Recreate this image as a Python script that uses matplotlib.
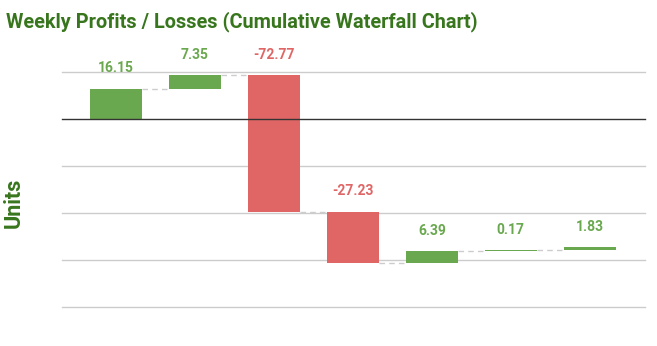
import matplotlib
matplotlib.use("Agg")
import matplotlib.pyplot as plt
import numpy as np

categories = ["W1", "W2", "W3", "W4", "W5", "W6", "W7"]
values = [16.15, 7.35, -72.77, -27.23, 6.39, 0.17, 1.83]
labels = ["16.15", "7.35", "-72.77", "-27.23", "6.39", "0.17", "1.83"]
yticks = [25, 0, -25, -50, -75, -100]

GREEN = "#6aa84f"
RED = "#e06666"
TITLE_C = "#38761d"

W, H = 657, 346
fig = plt.figure(figsize=(W / 100, H / 100), dpi=100)
# axes placed in pixels: left 62, right 645, top 72, bottom 307
ax = fig.add_axes([62 / W, 1 - 307 / H, (645 - 62) / W, (307 - 72) / H])

x = np.arange(len(values))
vals = np.array(values)
ends = np.cumsum(vals)
starts = ends - vals
colors = [GREEN if v >= 0 else RED for v in vals]
bw = 0.66
ax.bar(x, vals, bottom=starts, width=bw, color=colors, zorder=3)

# connectors
for i in range(len(vals) - 1):
    ax.plot([x[i] + bw / 2, x[i + 1] - bw / 2], [ends[i], ends[i]],
            ls=(0, (4, 3)), color="#cccccc", lw=1, zorder=2)

# labels
for i, (v, lab) in enumerate(zip(vals, labels)):
    top = max(starts[i], ends[i])
    ax.annotate(lab, (x[i], top), xytext=(0, 14.5), textcoords="offset points",
                ha="center", va="center", color=colors[i],
                fontsize=10, fontweight="bold", family="Roboto")

ax.set_ylim(-100, 25)
ax.set_xlim(-0.684, 6.70)
ax.set_xticks([])
ax.set_yticks([])
for yv in yticks:
    if yv != 0:
        ax.axhline(yv, color="#cccccc", lw=1, zorder=0, clip_on=False)
ax.axhline(0, color="#333333", lw=1, zorder=4, clip_on=False)
for s in ax.spines.values():
    s.set_visible(False)

fig.text(6 / W, 1 - 22 / H, "Weekly Profits / Losses (Cumulative Waterfall Chart)",
         ha="left", va="center", color=TITLE_C, fontsize=14.3, fontweight="bold",
         family="Roboto")
fig.text(14 / W, 1 - 203 / H, "Units", rotation=90, ha="center", va="center",
         color=TITLE_C, fontsize=15.5, fontweight="bold", family="Roboto")

fig.savefig("out.png", dpi=100)
